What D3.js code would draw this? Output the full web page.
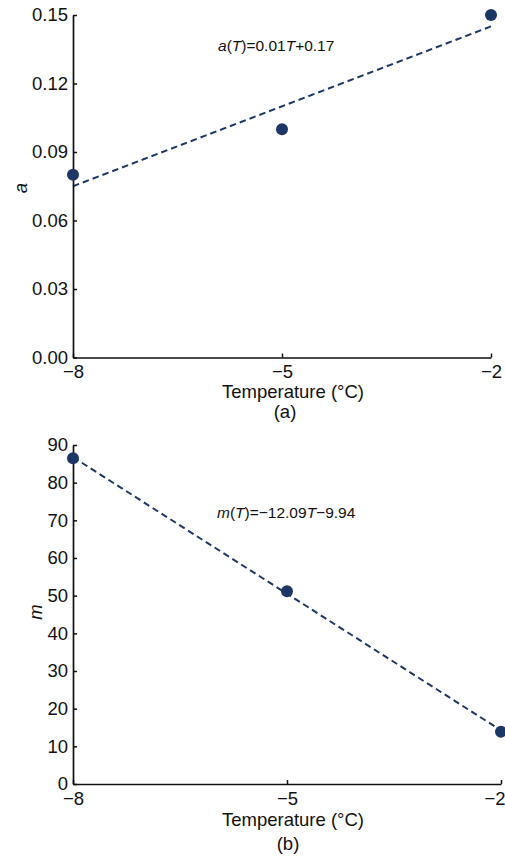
<!DOCTYPE html>
<html>
<head>
<meta charset="utf-8">
<script src="https://cdn.jsdelivr.net/npm/d3@7"></script>
<style>
  html, body { margin: 0; padding: 0; background: #fff; }
  svg { display: block; font-family: "Liberation Sans", Arial, sans-serif; }
</style>
</head>
<body>
<svg id="chart" width="505" height="858"></svg>
<script>
// ---- data ----
const temps = [-8, -5, -2];
const xTicks = [-8, -5, -2];

const aValues = [0.08, 0.10, 0.15];
const aFit = [[-8, 0.075], [-2, 0.145]];
const aTicks = [0.00, 0.03, 0.06, 0.09, 0.12, 0.15];
const aEquation = ["a", "(", "T", ")=0.01", "T", "+0.17"];

const mValues = [86.5, 51.2, 13.9];
const mFit = [[-8, 86.78], [-2, 14.24]];
const mTicks = [0, 10, 20, 30, 40, 50, 60, 70, 80, 90];
const mEquation = ["m", "(", "T", ")=\u221212.09", "T", "\u22129.94"];

const xLabel = "Temperature (\u00b0C)";

const color = "#1c3766";
const FS = 18.5;
const svg = d3.select("#chart");

function panel(cfg) {
  const g = svg.append("g");
  const x = d3.scaleLinear().domain([-8, -2]).range([cfg.x0, cfg.x1]);
  const y = d3.scaleLinear().domain(cfg.yDomain).range([cfg.yBottom, cfg.yTop]);

  // fit line
  g.append("path")
    .datum(cfg.fit)
    .attr("d", d3.line().x(d => x(d[0])).y(d => y(d[1])))
    .attr("fill", "none")
    .attr("stroke", color)
    .attr("stroke-width", 2)
    .attr("stroke-dasharray", "6.5,4");

  // axes
  const ax = g.append("g").attr("transform", `translate(0,${cfg.yBottom})`)
    .call(d3.axisBottom(x).tickValues(xTicks).tickSizeInner(-4).tickSizeOuter(0).tickPadding(cfg.xPad)
      .tickFormat(d3.format("d")));
  const ay = g.append("g").attr("transform", `translate(${cfg.x0},0)`)
    .call(d3.axisLeft(y).tickValues(cfg.yTicks).tickSizeInner(-4).tickSizeOuter(0).tickPadding(5)
      .tickFormat(cfg.yFmt));
  [ax, ay].forEach(a => {
    a.select(".domain").attr("stroke", "#111").attr("stroke-width", 1.7);
    a.selectAll(".tick line").attr("stroke", "#111").attr("stroke-width", 1.5);
    a.selectAll(".tick text").attr("font-size", FS).attr("fill", "#111")
      .attr("font-family", "Liberation Sans, Arial, sans-serif");
  });
  if (cfg.lastEnd) {
    ax.selectAll(".tick text").filter(d => d === -2)
      .attr("text-anchor", "end").attr("x", 505 - cfg.x1);
  }

  // points
  g.selectAll("circle.pt").data(temps.map((t, i) => [t, cfg.values[i]]))
    .enter().append("circle")
    .attr("cx", d => x(d[0])).attr("cy", d => y(d[1]))
    .attr("r", 6).attr("fill", color);

  // equation
  const eq = g.append("text").attr("x", cfg.eqX).attr("y", cfg.eqY)
    .attr("font-size", 15.5).attr("fill", "#111");
  cfg.eq.forEach((s, i) => {
    eq.append("tspan").text(s)
      .attr("font-style", (i === 0 || i === 2 || i === 4) ? "italic" : "normal");
  });

  // y label
  g.append("text")
    .attr("transform", `translate(${cfg.yLabX},${cfg.yLabY}) rotate(-90)`)
    .attr("text-anchor", "middle")
    .attr("font-size", FS).attr("font-style", "italic").attr("fill", "#111")
    .text(cfg.yLabel);

  // x label
  g.append("text").attr("x", 293).attr("y", cfg.xLabY)
    .attr("text-anchor", "middle").attr("font-size", FS).attr("fill", "#111")
    .text(xLabel);

  // panel tag
  g.append("text").attr("x", cfg.tagX).attr("y", cfg.tagY)
    .attr("text-anchor", "middle").attr("font-size", FS).attr("fill", "#111")
    .text(cfg.tag);
}

panel({
  x0: 73, x1: 491, yTop: 15, yBottom: 357.5, yDomain: [0, 0.15],
  yTicks: aTicks, yFmt: d3.format(".2f"), values: aValues, fit: aFit,
  eq: aEquation, eqX: 218, eqY: 51, yLabel: "a", yLabX: 27, yLabY: 188,
  xPad: 7, xLabY: 398, tag: "(a)", tagX: 285, tagY: 418, lastEnd: false
});

panel({
  x0: 73, x1: 501, yTop: 445, yBottom: 784, yDomain: [0, 90],
  yTicks: mTicks, yFmt: d3.format("d"), values: mValues, fit: mFit,
  eq: mEquation, eqX: 217, eqY: 518, yLabel: "m", yLabX: 42, yLabY: 612,
  xPad: 8, xLabY: 826, tag: "(b)", tagX: 288, tagY: 850, lastEnd: true
});
</script>
</body>
</html>
